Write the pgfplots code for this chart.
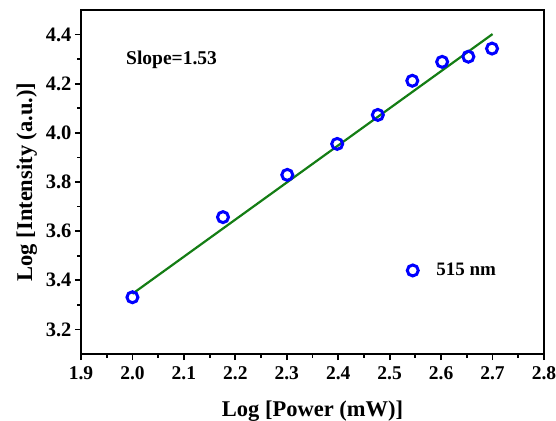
\documentclass[border=0pt]{standalone}
\usepackage{fontspec}
\setmainfont{Liberation Serif}
\usepackage{pgfplots}
\pgfplotsset{compat=1.18}

\definecolor{fitgreen}{RGB}{20,125,20}
\definecolor{ptblue}{RGB}{0,0,255}

\begin{document}
\begin{tikzpicture}[x=1pt,y=1pt]
\useasboundingbox (0,0) rectangle (556,420);
\begin{axis}[
    at={(81pt,66pt)}, anchor=south west,
    scale only axis,
    width=463pt, height=344pt,
    xmin=1.9, xmax=2.8,
    ymin=3.1, ymax=4.5,
    xtick={1.9,2.0,...,2.8},
    ytick={3.2,3.4,...,4.4},
    minor x tick num=1,
    minor y tick num=1,
    xtick pos=bottom, ytick pos=left,
    tick align=outside,
    major tick length=6pt, minor tick length=3.5pt,
    every tick/.style={black, line width=1.8pt},
    axis line style={line width=2.2pt},
    /pgf/number format/assume math mode=true,
    /pgf/number format/.cd, fixed, fixed zerofill, precision=1, /pgfplots/.cd,
    xticklabel style={font=\fontsize{19.5}{22}\selectfont\bfseries, yshift=-3pt},
    yticklabel style={font=\fontsize{20.5}{23}\selectfont\bfseries, xshift=0pt},
    xlabel={Log [Power (mW)]},
    ylabel={Log [Intensity (a.u.)]},
    label style={font=\fontsize{22.5}{25}\selectfont\bfseries},
    xlabel style={yshift=-14pt},
    ylabel style={yshift=2pt},
    legend style={draw=none, fill=none, at={(axis cs:2.528,3.44)}, anchor=west,
      font=\fontsize{19}{22}\selectfont\bfseries},
    clip=false,
]
% linear fit
\addplot[fitgreen, line width=2.2pt, forget plot] coordinates {
    (2.0, 3.345)
    (2.7, 4.402)
};
% measured points
\addplot[only marks, mark=o, mark size=5.5pt, ptblue, line width=3pt] coordinates {
    (2.000, 3.331)
    (2.176, 3.657)
    (2.301, 3.829)
    (2.398, 3.955)
    (2.477, 4.073)
    (2.544, 4.212)
    (2.602, 4.289)
    (2.653, 4.310)
    (2.699, 4.343)
};
\addlegendentry{\hspace*{16pt}515 nm}
\node[anchor=base west, inner sep=0pt, font=\fontsize{19.5}{22}\selectfont\bfseries] at (axis cs:1.9875,4.278) {Slope=1.53};
\end{axis}
\end{tikzpicture}
\end{document}
